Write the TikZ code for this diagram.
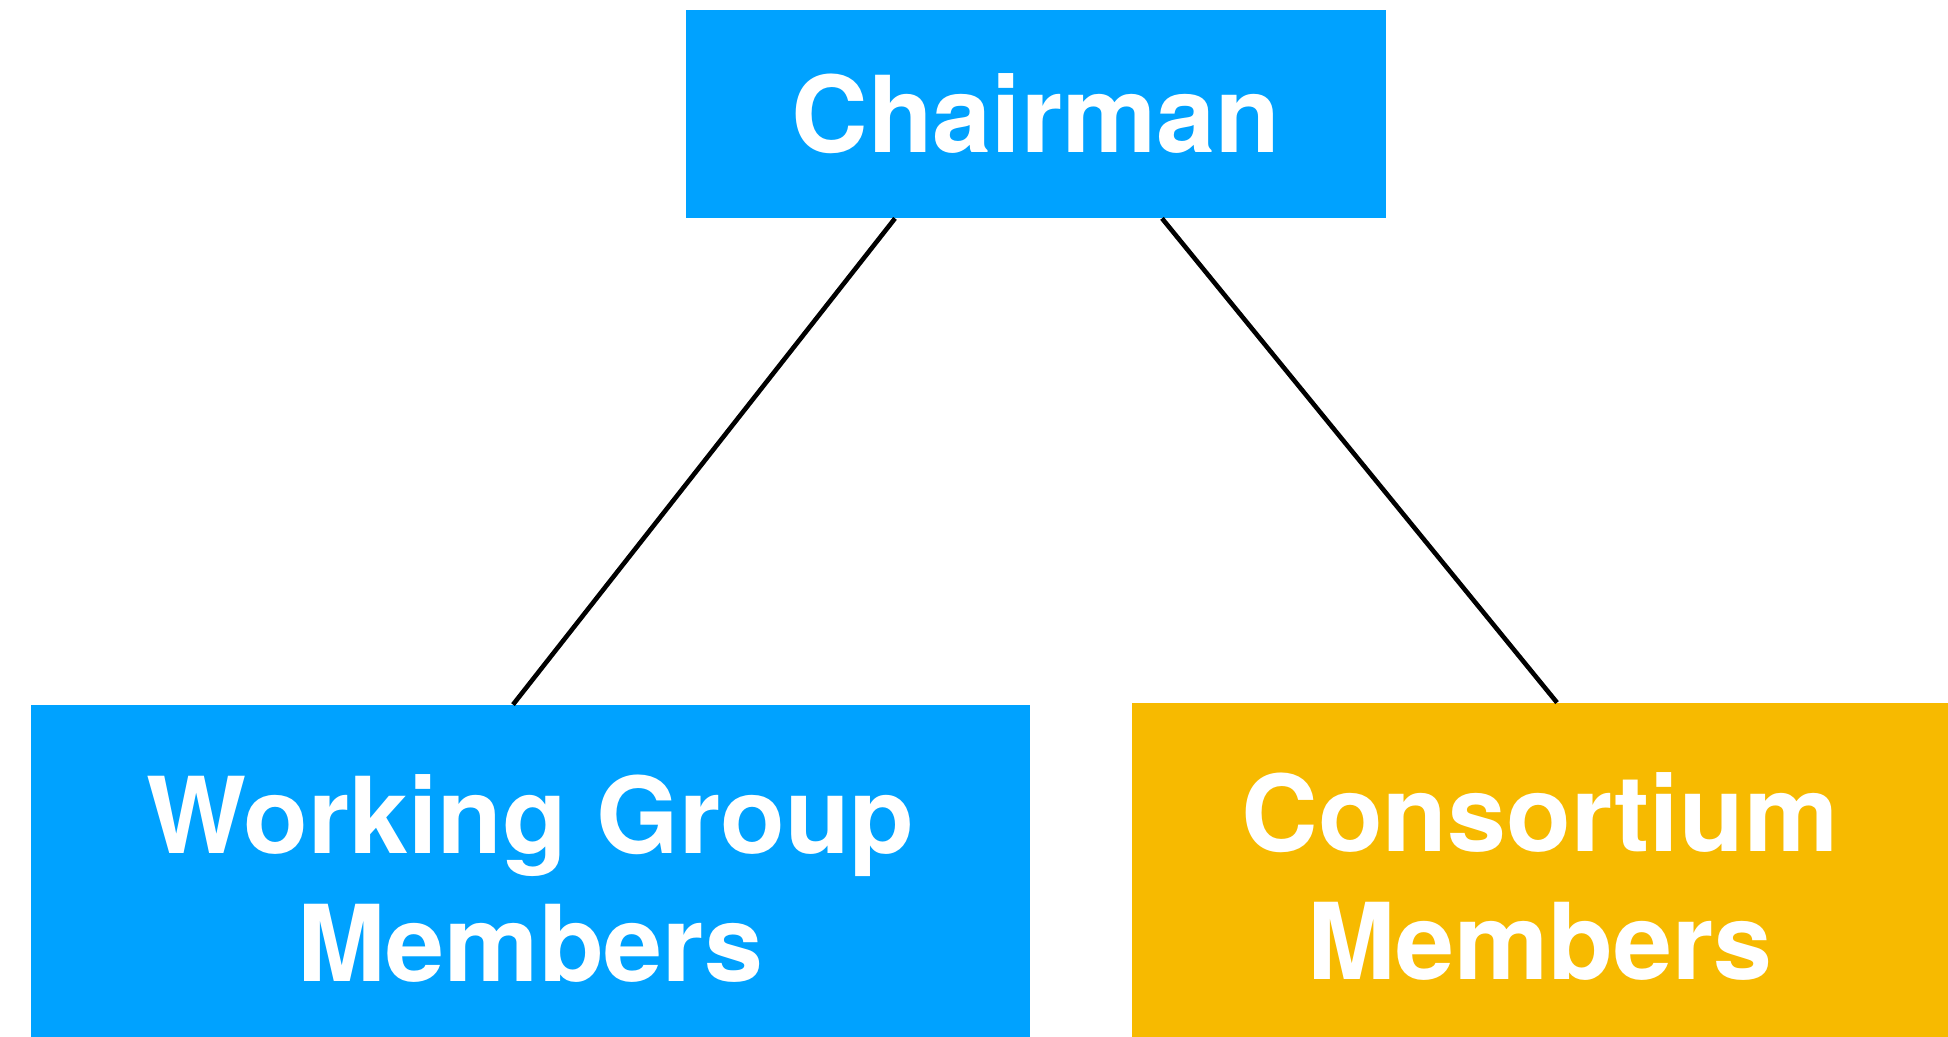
\documentclass[tikz,border=0pt]{standalone}
\usepackage{fontspec}
\setmainfont{TeX Gyre Heros}
\usepackage{tikz}
\usetikzlibrary{positioning, calc}

\definecolor{keyblue}{HTML}{00A2FF}
\definecolor{keyyellow}{HTML}{F7BA00}

\begin{document}
\begin{tikzpicture}[
      x=0.5pt, y=-0.5pt,
      block/.style={
        rectangle,
        inner sep=0pt,
        text=white,
        font=\fontsize{53}{64}\selectfont\bfseries,
        align=center,
      },
      head/.style={
        fill=keyblue,
        minimum width=350pt,
        minimum height=104pt,
      },
      group/.style={
        fill=keyblue,
        minimum width=499.5pt,
        minimum height=173pt,
      },
      consortium/.style={
        fill=keyyellow,
        minimum width=408pt,
        minimum height=173pt,
      },
      link/.style={
        draw=black,
        line width=2.3pt,
      },
    ]
    \useasboundingbox (0,0) rectangle (1948,1037);
    \coordinate (chairman) at (1036,114);
    \coordinate (working-group) at (530.5,878);
    \coordinate (consortium) at (1540,876);
    \node[block, head] (chairman-node) at (chairman) {Chairman};
    \node[block, group] (wg-node) at (working-group) {Working Group\\Members};
    \node[block, consortium] (cons-node) at (consortium) {Consortium\\Members};
    \draw[link] ([xshift=-70.5pt]chairman-node.south) -- ([xshift=-8.75pt]wg-node.north);
    \draw[link] ([xshift=63pt]chairman-node.south) -- ([xshift=8.5pt]cons-node.north);
  \end{tikzpicture}
\end{document}
